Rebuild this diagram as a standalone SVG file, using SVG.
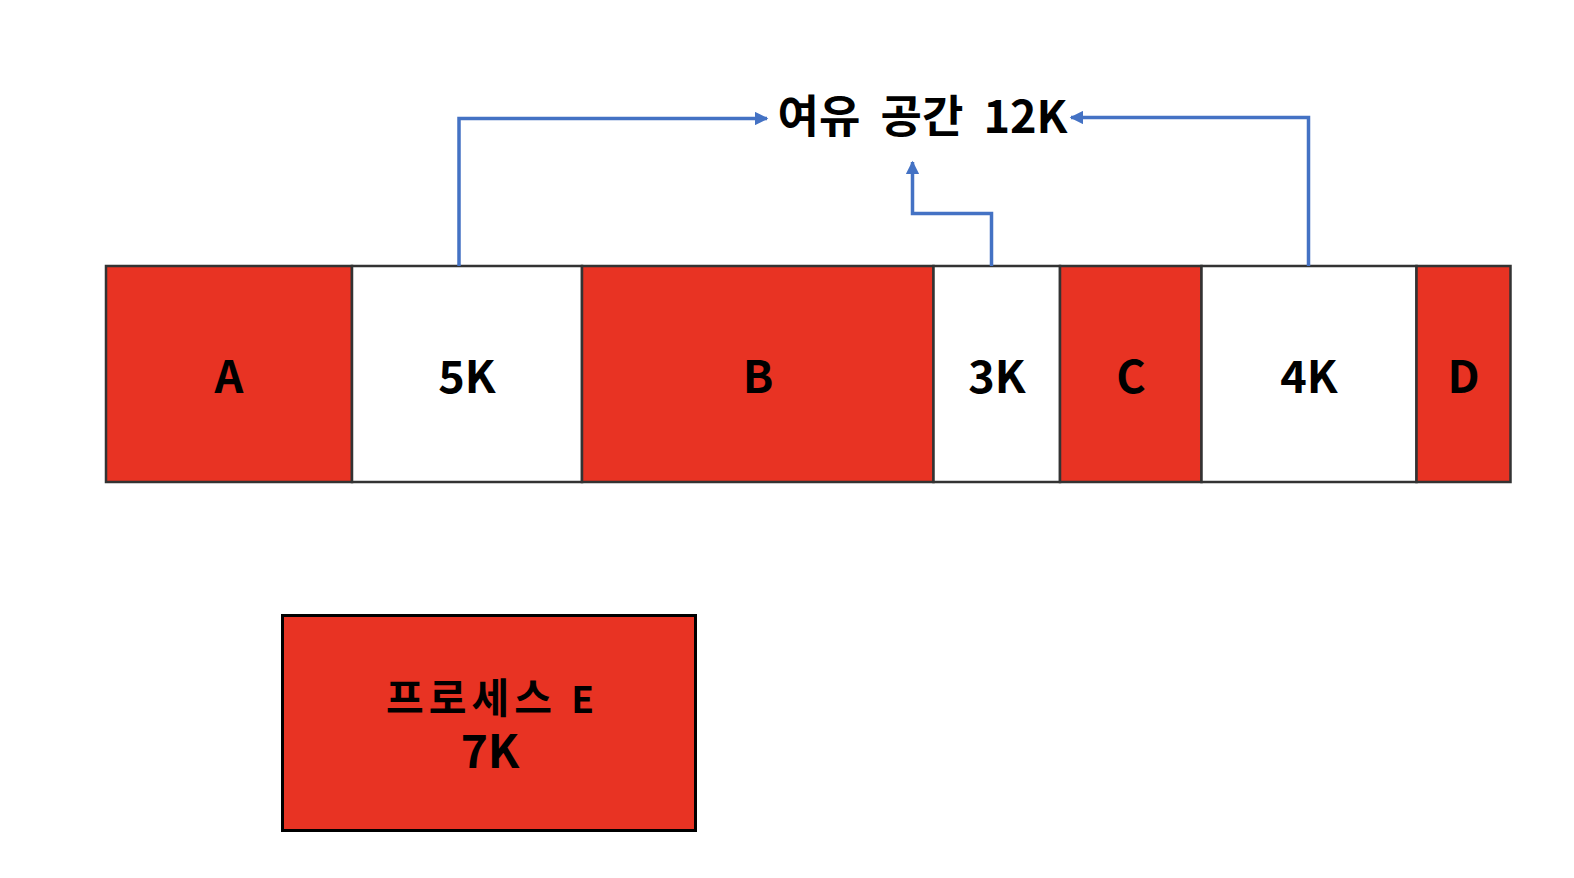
<svg xmlns="http://www.w3.org/2000/svg" width="1574" height="878" viewBox="0 0 1574 878">
  <style>
    .used { fill: #E83323; stroke: #333333; stroke-width: 2.5; }
    .free { fill: #FFFFFF; stroke: #333333; stroke-width: 2.5; }
    .lbl { font-family: "Noto Sans CJK KR", "Noto Sans", sans-serif; font-weight: bold; font-size: 45px; fill: #000000; text-anchor: middle; }
    .conn { fill: none; stroke: #4472C4; stroke-width: 3.5; }
  </style>
  <defs>
    <marker id="arr" viewBox="0 0 10 10" refX="9" refY="5" markerWidth="4" markerHeight="3.8" orient="auto" markerUnits="strokeWidth">
      <path d="M0,0 L10,5 L0,10 Z" fill="#4472C4"/>
    </marker>
  </defs>
  <rect width="1574" height="878" fill="#FFFFFF"/>

  <g id="seg-A"><rect class="used" x="106" y="266" width="246" height="216"/><text class="lbl" x="229" y="393">A</text></g>
  <g id="seg-5K"><rect class="free" x="352" y="266" width="230" height="216"/><text class="lbl" x="467" y="393">5K</text></g>
  <g id="seg-B"><rect class="used" x="582" y="266" width="351.5" height="216"/><text class="lbl" x="758" y="393">B</text></g>
  <g id="seg-3K"><rect class="free" x="933.5" y="266" width="126.5" height="216"/><text class="lbl" x="997" y="393">3K</text></g>
  <g id="seg-C"><rect class="used" x="1060" y="266" width="141.5" height="216"/><text class="lbl" x="1131" y="393">C</text></g>
  <g id="seg-4K"><rect class="free" x="1201.5" y="266" width="215" height="216"/><text class="lbl" x="1309" y="393">4K</text></g>
  <g id="seg-D"><rect class="used" x="1416.5" y="266" width="94" height="216"/><text class="lbl" x="1463.5" y="393">D</text></g>

  <g id="title"><text class="lbl" x="922.5" y="133" font-size="44px" word-spacing="10">여유 공간 12K</text></g>

  <g id="process-E">
    <rect x="282.5" y="615.5" width="413" height="215" fill="#E83323" stroke="#000000" stroke-width="3"/>
    <text class="lbl" x="490" y="713"><tspan font-size="41px" letter-spacing="5">프로세스 <tspan font-size="37px" letter-spacing="0">E</tspan></tspan><tspan x="490" y="768" font-size="46px">7K</tspan></text>
  </g>

  <g id="connectors">
    <path class="conn" d="M459,266 V118.5 H767" marker-end="url(#arr)"/>
    <path class="conn" d="M991.5,266 V213.5 H912.5 V162" marker-end="url(#arr)"/>
    <path class="conn" d="M1308.5,266 V117.5 H1071" marker-end="url(#arr)"/>
  </g>
</svg>
